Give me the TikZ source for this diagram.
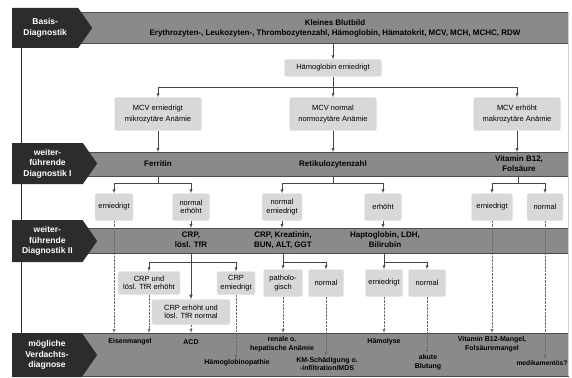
\documentclass[tikz,border=0pt]{standalone}
\usepackage{fontspec}
\setmainfont{Liberation Sans}
\usetikzlibrary{arrows, positioning, shapes.symbols}
\definecolor{bandgray}{RGB}{138,138,138}
\definecolor{labeldark}{RGB}{44,44,44}
\definecolor{boxgray}{RGB}{216,216,216}
\definecolor{linegray}{RGB}{70,70,70}

\begin{document}
\begin{tikzpicture}[x=1pt, y=-1pt]
    \tikzstyle{band}=[fill=bandgray, draw=gray!60!black, anchor=north west, inner sep=0pt, minimum width=553pt]
    \tikzstyle{stage}=[signal, signal to=east, signal pointer angle=110, fill=labeldark, text=white, font=\fontsize{8.5}{10.5}\selectfont\bfseries, align=center, anchor=west, inner sep=1pt]
    \tikzstyle{bandtext}=[font=\fontsize{8}{10}\selectfont\bfseries, align=center, inner sep=1pt]
    \tikzstyle{stepbox}=[fill=boxgray, draw=gray!20, rounded corners=2pt, font=\fontsize{7.5}{8.5}\selectfont, align=center, inner sep=1pt]
    \tikzstyle{diag}=[font=\fontsize{7}{8.5}\selectfont\bfseries, align=center, inner sep=1pt]
    \tikzstyle{flow}=[draw=linegray, -latex, thin]
    \tikzstyle{maybe}=[draw=linegray!80, -latex, densely dotted, thin]

    \useasboundingbox (0,0) rectangle (572,377);

    % bands
    \node[band, minimum height=31pt] (bandA) at (15,12) {};
    \node[band, minimum height=24pt] (bandB) at (15,152) {};
    \node[band, minimum height=25pt] (bandC) at (15,228) {};
    \node[band, minimum height=43pt] (bandD) at (15,333) {};
    \draw[gray!35] (bandA.north east) -- (bandD.south east);

    % stage labels
    \coordinate (spineTop) at (21,46);
    \coordinate (spineBot) at (21,334);
    \draw[labeldark, semithick] (spineTop) -- (spineBot);
    \node[stage, minimum width=80pt, minimum height=40pt] (basisLbl) at (12,28) {Basis-\\Diagnostik};
    \node[stage, minimum width=85pt, minimum height=41pt] (weiterLblA) at (12,163.5) {weiter-\\führende\\Diagnostik I};
    \node[stage, minimum width=85pt, minimum height=42pt] (weiterLblB) at (12,241) {weiter-\\führende\\Diagnostik II};
    \node[stage, minimum width=85pt, minimum height=44pt] (verdachtLbl) at (12,355) {mögliche\\Verdachts-\\diagnose};

    % basis
    \node[bandtext] (blutbild) at (335,28) {Kleines Blutbild\\Erythrozyten-, Leukozyten-, Thrombozytenzahl, Hämoglobin, Hämatokrit, MCV, MCH, MCHC, RDW};
    \node[stepbox, minimum width=97pt, minimum height=17pt] (hbLow) at (333,68) {Hämoglobin erniedrigt};
    \draw[flow] (bandA.south -| hbLow.north) -- (hbLow.north);

    \node[stepbox, minimum width=87pt, minimum height=33pt, font=\fontsize{7.5}{11.5}\selectfont] (mcvLow) at (158,114) {MCV erniedrigt\\mikrozytäre Anämie};
    \node[stepbox, minimum width=87pt, minimum height=33pt, font=\fontsize{7.5}{11.5}\selectfont] (mcvNorm) at (333,114) {MCV normal\\normozytäre Anämie};
    \node[stepbox, minimum width=87pt, minimum height=33pt, font=\fontsize{7.5}{11.5}\selectfont] (mcvHigh) at (517,114) {MCV erhöht\\makrozytäre Anämie};

    \coordinate (hbSplit) at (333,87);
    \draw[linegray, thin] (hbLow) -- (hbSplit);
    \draw[flow] (hbSplit) -| (mcvLow);
    \draw[flow] (hbSplit) -- (mcvNorm);
    \draw[flow] (hbSplit) -| (mcvHigh);

    % weiterfuehrende Diagnostik I
    \node[bandtext] (ferritin) at (158,164) {Ferritin};
    \node[bandtext] (retiZahl) at (333,164) {Retikulozytenzahl};
    \node[bandtext] (vitB) at (519,164) {Vitamin B12,\\Folsäure};
    \draw[flow] (mcvLow) -- (bandB.north -| mcvLow);
    \draw[flow] (mcvNorm) -- (bandB.north -| mcvNorm);
    \draw[flow] (mcvHigh) -- (bandB.north -| mcvHigh);

    \node[stepbox, minimum width=38pt, minimum height=27pt] (ferrLow) at (114,207) {erniedrigt};
    \node[stepbox, minimum width=37pt, minimum height=27pt] (ferrNorm) at (191,207) {normal\\erhöht};
    \node[stepbox, minimum width=40pt, minimum height=27pt] (retiLow) at (282,207) {normal\\erniedrigt};
    \node[stepbox, minimum width=37pt, minimum height=27pt] (retiHigh) at (383,207) {erhöht};
    \node[stepbox, minimum width=41pt, minimum height=27pt] (vitLow) at (492,207) {erniedrigt};
    \node[stepbox, minimum width=36pt, minimum height=27pt] (vitNorm) at (545,207) {normal};

    \coordinate (ferrSplit) at (158,183);
    \coordinate (retiSplit) at (333,183);
    \coordinate (vitSplit) at (518,183);
    \draw[linegray, thin] (bandB.south -| ferrSplit) -- (ferrSplit);
    \draw[linegray, thin] (bandB.south -| retiSplit) -- (retiSplit);
    \draw[linegray, thin] (bandB.south -| vitSplit) -- (vitSplit);
    \draw[flow] (ferrSplit) -| (ferrLow);
    \draw[flow] (ferrSplit) -| (ferrNorm);
    \draw[flow] (retiSplit) -| (retiLow);
    \draw[flow] (retiSplit) -| (retiHigh);
    \draw[flow] (vitSplit) -| (vitLow);
    \draw[flow] (vitSplit) -| (vitNorm);

    % weiterfuehrende Diagnostik II
    \node[bandtext] (crpTfr) at (191,240) {CRP,\\lösl. TfR};
    \node[bandtext] (crpKrea) at (283,240) {CRP, Kreatinin,\\BUN, ALT, GGT};
    \node[bandtext] (haptoLdh) at (385,240) {Haptoglobin, LDH,\\Bilirubin};
    \draw[flow] (ferrNorm) -- (bandC.north -| ferrNorm);
    \draw[flow] (retiLow) -- (bandC.north -| retiLow);
    \draw[flow] (retiHigh) -- (bandC.north -| retiHigh);

    \node[stepbox, minimum width=62pt, minimum height=23pt] (crpBoth) at (149,283) {CRP und\\lösl. TfR erhöht};
    \node[stepbox, minimum width=38pt, minimum height=23pt] (crpLow) at (236,283) {CRP\\erniedrigt};
    \node[stepbox, minimum width=78pt, minimum height=25pt] (crpOnly) at (191,312) {CRP erhöht und\\lösl. TfR normal};
    \node[stepbox, minimum width=39pt, minimum height=27pt] (retiPath) at (283,283) {patholo-\\gisch};
    \node[stepbox, minimum width=35pt, minimum height=27pt] (retiNorm) at (326,283) {normal};
    \node[stepbox, minimum width=37pt, minimum height=27pt] (haemLow) at (384,283) {erniedrigt};
    \node[stepbox, minimum width=37pt, minimum height=27pt] (haemNorm) at (427,283) {normal};

    \coordinate (crpSplit) at (191,262);
    \coordinate (kreaSplit) at (283,262);
    \coordinate (haptoSplit) at (384,262);
    \draw[linegray, thin] (bandC.south -| crpSplit) -- (crpSplit);
    \draw[linegray, thin] (bandC.south -| kreaSplit) -- (kreaSplit);
    \draw[linegray, thin] (bandC.south -| haptoSplit) -- (haptoSplit);
    \draw[flow] (crpSplit) -| (crpBoth);
    \draw[flow] (crpSplit) -| (crpLow);
    \draw[flow, semithick] (crpSplit) -- (crpOnly);
    \draw[flow] (kreaSplit) -- (retiPath);
    \draw[flow] (kreaSplit) -| (retiNorm);
    \draw[flow] (haptoSplit) -- (haemLow);
    \draw[flow] (haptoSplit) -| (haemNorm);

    % moegliche Verdachtsdiagnose
    \node[diag] (eisen) at (130,342) {Eisenmangel};
    \node[diag] (acd) at (191,342) {ACD};
    \node[diag] (hbPath) at (237,363) {Hämoglobinopathie};
    \node[diag] (renal) at (282,344) {renale o.\\hepatische Anämie};
    \node[diag] (kmSchad) at (327,364) {KM-Schädigung o.\\-infiltration/MDS};
    \node[diag] (haemolyse) at (384,342) {Hämolyse};
    \node[diag] (blutung) at (428,362) {akute\\Blutung};
    \node[diag] (vitMangel) at (492,344) {Vitamin B12-Mangel,\\Folsäuremangel};
    \node[diag, font=\fontsize{6.7}{8.5}\selectfont\bfseries] (medik) at (542,363) {medikamentös?};

    \draw[maybe] (ferrLow) -- (bandD.north -| ferrLow);
    \draw[maybe] (crpBoth) -- (bandD.north -| crpBoth);
    \draw[maybe] (crpOnly) -- (bandD.north -| crpOnly);
    \draw[maybe] (crpLow) -- (crpLow |- hbPath.north);
    \draw[maybe] (retiPath) -- (bandD.north -| retiPath);
    \draw[maybe] (retiNorm) -- (retiNorm |- kmSchad.north);
    \draw[maybe] (haemLow) -- (bandD.north -| haemLow);
    \draw[maybe] (haemNorm) -- (haemNorm |- blutung.north);
    \draw[maybe] (vitLow) -- (bandD.north -| vitLow);
    \draw[maybe] (vitNorm) -- (vitNorm |- medik.north);
\end{tikzpicture}
\end{document}
